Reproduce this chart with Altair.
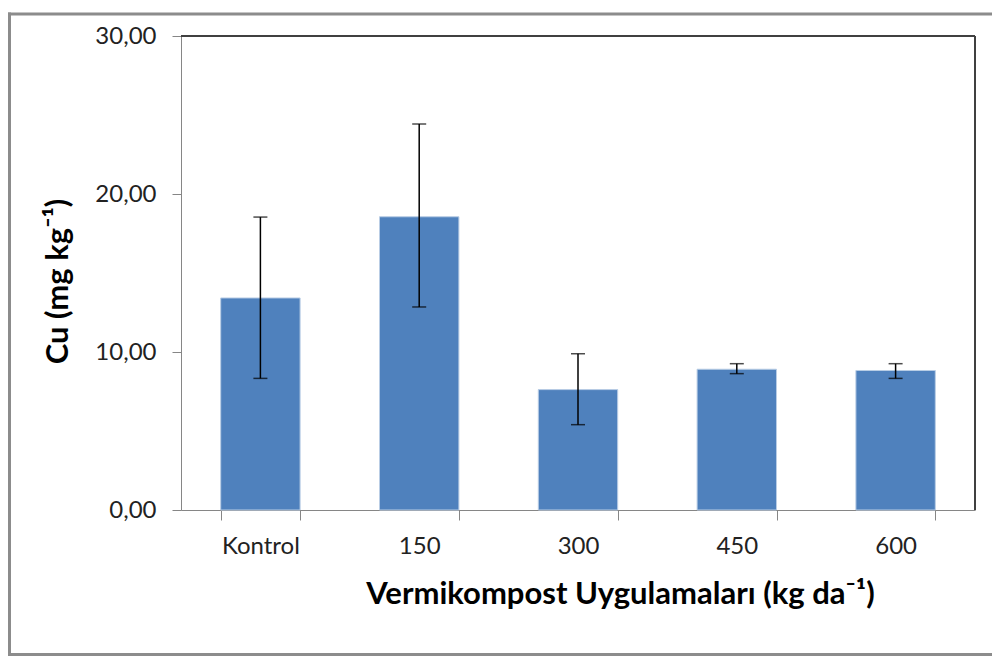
import altair as alt
import pandas as pd

categories = ["Kontrol", "150", "300", "450", "600"]
means = [13.42, 18.56, 7.62, 8.91, 8.83]
err_low = [8.33, 12.85, 5.40, 8.63, 8.33]
err_high = [18.54, 24.43, 9.89, 9.26, 9.26]
y_ticks = [0, 10, 20, 30]

df = pd.DataFrame({"cat": categories, "mean": means, "lo": err_low, "hi": err_high})

W, H = 794, 474
L, T = 181, 36  # plot origin on page
FONT = "Lato"

x_enc = alt.X("cat:N", sort=categories, scale=alt.Scale(paddingInner=0.5, paddingOuter=0.25),
              axis=alt.Axis(title="Vermikompost Uygulamaları (kg da⁻¹)", labelAngle=0,
                            tickBand="extent", tickSize=10, tickColor="#868686",
                            domainColor="#868686", labelPadding=14, labelFontSize=24,
                            labelFont=FONT, labelColor="#222222",
                            titleFont=FONT, titleFontSize=31, titleFontWeight="bold",
                            titleColor="#000000", titleX=439, titleY=84,
                            titleBaseline="middle", titleAlign="center"))

y_enc = alt.Y("mean:Q", scale=alt.Scale(domain=[0, 30]),
              axis=alt.Axis(values=y_ticks, grid=False, title="Cu (mg kg⁻¹)",
                            labelExpr="replace(format(datum.value, '.2f'), '.', ',')",
                            tickSize=9, tickColor="#868686", domainColor="#868686",
                            labelPadding=16, labelFontSize=24, labelFont=FONT,
                            labelColor="#222222",
                            titleFont=FONT, titleFontSize=31, titleFontWeight="bold",
                            titleColor="#000000", titleX=-123, titleY=245,
                            titleAngle=-90, titleBaseline="middle", titleAlign="center"))

bars = alt.Chart(df).mark_bar(color="#4F81BD", stroke="#b9cde5", strokeWidth=1).encode(
    x=x_enc, y=y_enc)

rules = alt.Chart(df).mark_rule(color="#000000", strokeWidth=1.5).encode(
    x=alt.X("cat:N", sort=categories), y="lo:Q", y2="hi:Q")
cap_lo = alt.Chart(df).mark_tick(color="#000000", size=14, thickness=1.5, orient="horizontal").encode(
    x=alt.X("cat:N", sort=categories), y="lo:Q")
cap_hi = alt.Chart(df).mark_tick(color="#000000", size=14, thickness=1.5, orient="horizontal").encode(
    x=alt.X("cat:N", sort=categories), y="hi:Q")

one = pd.DataFrame({"a": [0]})
# plot frame: top and right dark lines
frame_top = alt.Chart(one).mark_rule(color="#404040", strokeWidth=2).encode(
    x=alt.value(0), x2=alt.value(W), y=alt.value(0))
frame_right = alt.Chart(one).mark_rule(color="#404040", strokeWidth=2).encode(
    x=alt.value(W), y=alt.value(0), y2=alt.value(H))
# outer image border (top, left, bottom)
b_top = alt.Chart(one).mark_rule(color="#8c8c8c", strokeWidth=3).encode(
    x=alt.value(8 - L), x2=alt.value(992 - L), y=alt.value(14 - T))
b_left = alt.Chart(one).mark_rule(color="#8c8c8c", strokeWidth=3).encode(
    x=alt.value(9.5 - L), y=alt.value(12.5 - T), y2=alt.value(656 - T))
b_bottom = alt.Chart(one).mark_rule(color="#8c8c8c", strokeWidth=3).encode(
    x=alt.value(8 - L), x2=alt.value(992 - L), y=alt.value(654.5 - T))

chart = alt.layer(bars, rules, cap_lo, cap_hi, frame_top, frame_right,
                  b_top, b_left, b_bottom).properties(
    width=W, height=H,
    autosize=alt.AutoSizeParams(type="none"),
    padding={"left": L - 8, "top": T - 8, "right": 17, "bottom": 151},
).configure_view(stroke=None).configure(background="white")

chart.save("out.html", embed_options={"renderer": "svg", "actions": False})
